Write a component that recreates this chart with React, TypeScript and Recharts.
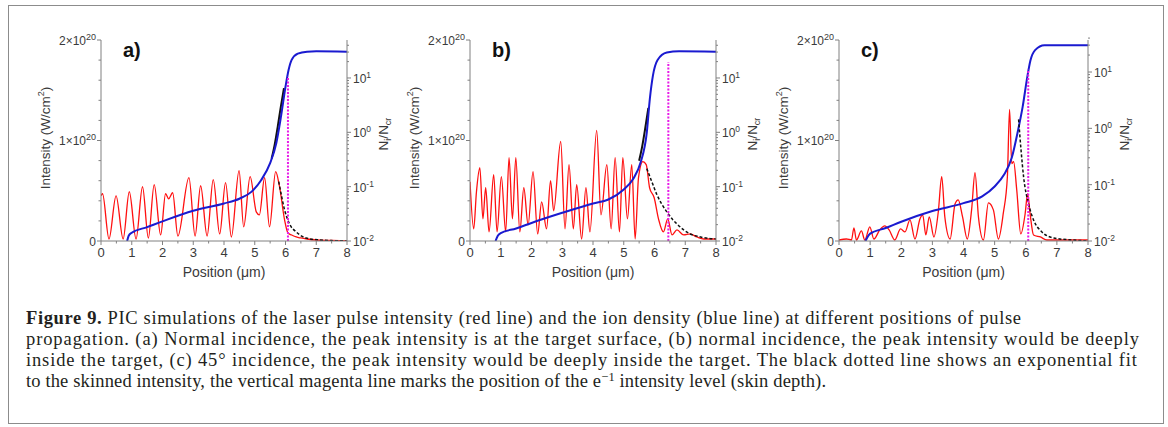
import React from "react";
import { ComposedChart, Line, XAxis, YAxis } from "recharts";

// ---- panel a) ----
const aRedX = [0, 0.05, 0.26, 0.49, 0.72, 0.92, 1.14, 1.35, 1.54, 1.73, 1.94, 2.1, 2.2, 2.33, 2.5, 2.86, 3.06, 3.24, 3.45, 3.65, 3.86, 4.05, 4.24, 4.49, 4.64, 4.85, 5.05, 5.15, 5.32, 5.48, 5.68, 5.8, 5.97, 6.08, 6.2, 6.35, 6.5, 6.7, 7.0, 7.5, 8.0];
const aRedI = [0.45, 0.47, 0.02, 0.45, 0.02, 0.49, 0.02, 0.54, 0.03, 0.56, 0.06, 0.47, 0.42, 0.48, 0.05, 0.63, 0.05, 0.55, 0.05, 0.61, 0.07, 0.58, 0.04, 0.7, 0.14, 0.64, 0.29, 0.26, 0.63, 0.14, 0.69, 0.55, 0.21, 0.08, 0.06, 0.04, 0.03, 0.02, 0.01, 0.005, 0];
const aFitX = [5.78, 5.85, 5.97, 6.13, 6.35, 6.67, 7.1, 7.5, 8];
const aFitI = [0.59, 0.48, 0.31, 0.17, 0.09, 0.03, 0.01, 0.004, 0.001];
const aIonX = [0.85, 0.9, 1.0, 1.5, 2.0, 3.0, 4.0, 4.5, 4.9, 5.2, 5.5, 5.7, 5.85, 6.0, 6.1, 6.2, 6.4, 6.7, 7.0, 8.0];
const aIonN = [0.01, 0.0125, 0.0142, 0.018, 0.023, 0.036, 0.049, 0.06, 0.081, 0.13, 0.27, 0.63, 1.9, 6.9, 14, 21.5, 28, 30.5, 31, 30.5];
const aIon2X = [5.55, 5.65, 5.75, 5.85, 5.95];
const aIon2N = [0.33, 0.6, 1.3, 3.0, 6.5];
const aSkin = 6.08;
const aSkinTop = 1.64;

// ---- panel b) ----
const bRedX = [0, 0.12, 0.21, 0.32, 0.42, 0.51, 0.62, 0.77, 0.88, 1.02, 1.16, 1.27, 1.38, 1.49, 1.62, 1.75, 1.89, 2.05, 2.2, 2.33, 2.49, 2.62, 2.72, 2.95, 3.09, 3.22, 3.36, 3.47, 3.63, 3.77, 3.9, 4.12, 4.26, 4.45, 4.59, 4.72, 4.86, 4.97, 5.12, 5.26, 5.37, 5.48, 5.62, 5.73, 5.84, 5.99, 6.13, 6.29, 6.43, 6.57, 6.73, 6.95, 7.16, 7.38, 7.6, 8.0];
const bRedI = [0.59, 0.12, 0.49, 0.73, 0.22, 0.53, 0.09, 0.66, 0.09, 0.64, 0.09, 0.83, 0.22, 0.83, 0.09, 0.53, 0.16, 0.69, 0.07, 0.39, 0.12, 0.6, 0.3, 0.99, 0.12, 0.76, 0.12, 0.56, 0.02, 0.53, 0.09, 1.1, 0.26, 0.76, 0.12, 0.83, 0.09, 0.83, 0.22, 0.76, 0.02, 0.63, 0.79, 0.76, 0.53, 0.43, 0.22, 0.09, 0.22, 0.06, 0.11, 0.06, 0.07, 0.04, 0.02, 0.02];
const bFitX = [5.75, 5.9, 6.08, 6.25, 6.4, 6.6, 6.73, 6.95, 7.16, 7.5, 8];
const bFitI = [0.72, 0.6, 0.46, 0.36, 0.29, 0.21, 0.17, 0.11, 0.07, 0.04, 0.02];
const bIonX = [0.83, 0.9, 1.0, 1.5, 2.0, 3.0, 4.0, 4.5, 5.0, 5.3, 5.55, 5.75, 5.85, 5.95, 6.1, 6.4, 6.8, 8.0];
const bIonN = [0.01, 0.0124, 0.014, 0.017, 0.0215, 0.033, 0.049, 0.058, 0.089, 0.137, 0.28, 1.0, 4.2, 11.2, 21.5, 29.5, 31, 30.5];
const bIon2X = [5.5, 5.6, 5.7, 5.8];
const bIon2N = [0.3, 0.55, 1.2, 2.8];
const bSkin = 6.45;
const bSkinTop = 1.78;

// ---- panel c) ----
const cRedX = [0, 0.24, 0.4, 0.48, 0.56, 0.72, 0.83, 0.99, 1.12, 1.31, 1.47, 1.61, 1.79, 1.98, 2.12, 2.28, 2.44, 2.6, 2.69, 2.79, 2.9, 3.05, 3.19, 3.3, 3.4, 3.57, 3.73, 3.83, 3.97, 4.12, 4.26, 4.37, 4.48, 4.64, 4.8, 4.96, 5.12, 5.28, 5.41, 5.48, 5.55, 5.61, 5.71, 5.84, 5.98, 6.06, 6.14, 6.25, 6.47, 6.68, 7.0, 7.43, 8.0];
const cRedI = [0.01, 0.02, 0.01, 0.13, 0.01, 0.1, 0.01, 0.14, 0.02, 0.11, 0.15, 0.11, 0.01, 0.12, 0.09, 0.21, 0.02, 0.22, 0.26, 0.06, 0.24, 0.04, 0.29, 0.64, 0.24, 0.02, 0.37, 0.41, 0.24, 0.02, 0.31, 0.68, 0.24, 0.01, 0.38, 0.31, 0.02, 0.28, 0.64, 1.31, 0.77, 0.79, 0.51, 0.07, 0.27, 0.47, 0.27, 0.06, 0.04, 0.01, 0.01, 0.01, 0.01];
const cFitX = [5.77, 5.85, 5.93, 6.09, 6.25, 6.52, 6.9, 7.5, 8];
const cFitI = [1.21, 0.9, 0.64, 0.37, 0.21, 0.09, 0.03, 0.01, 0.0];
const cIonX = [0.85, 1.0, 1.5, 2.0, 3.0, 4.0, 4.6, 5.0, 5.3, 5.55, 5.75, 5.9, 6.05, 6.15, 6.3, 6.6, 8.0];
const cIonN = [0.01, 0.0135, 0.017, 0.022, 0.034, 0.047, 0.062, 0.093, 0.15, 0.3, 0.91, 2.4, 8.2, 16, 24.5, 30, 30];
const cIon2X: number[] = [];
const cIon2N: number[] = [];
const cSkin = 6.08;
const cSkinTop = 1.71;

// ---- ticks ----
const xTicks = [0, 0.5, 1, 1.5, 2, 2.5, 3, 3.5, 4, 4.5, 5, 5.5, 6, 6.5, 7, 7.5, 8];
const iTicks = [0, 0.2, 0.4, 0.6, 0.8, 1, 1.2, 1.4, 1.6, 1.8, 2];
const iMajor = [0, 1, 2];
const iLabels = ["0", "1×10", "2×10"];
const nMajor = [0.01, 0.1, 1, 10];
const nExp = ["-2", "-1", "0", "1"];
const nMinor = [0.02, 0.03, 0.04, 0.05, 0.06, 0.07, 0.08, 0.09, 0.2, 0.3, 0.4, 0.5, 0.6, 0.7, 0.8, 0.9, 2, 3, 4, 5, 6, 7, 8, 9, 20, 30, 40];

const zip = (xs: number[], ys: number[]) => xs.map((x, i) => ({ x, y: ys[i] }));

const AX = "#808080";
const TXT = "#3a3a3a";
const SANS = "'Liberation Sans', Arial, sans-serif";

const XTick = (p: any) => {
  const v = p.payload.value;
  const major = Math.abs(v - Math.round(v)) < 1e-6;
  return (
    <g>
      <line x1={p.x} x2={p.x} y1={p.y} y2={p.y + (major ? 4 : 2.5)} stroke={AX} />
      {major && (
        <text x={p.x} y={p.y + 16} textAnchor="middle" fontSize={13} fill={TXT} fontFamily={SANS}>
          {Math.round(v)}
        </text>
      )}
    </g>
  );
};

const ITick = (p: any) => {
  const v = p.payload.value;
  const idx = iMajor.findIndex((m) => Math.abs(m - v) < 1e-6);
  return (
    <g>
      <line x1={p.x} x2={p.x - (idx >= 0 ? 4 : 2.5)} y1={p.y} y2={p.y} stroke={AX} />
      {idx >= 0 && (
        <text x={p.x - 5} y={p.y + 4.5} textAnchor="end" fontSize={12} fill={TXT} fontFamily={SANS}>
          {idx === 0 ? (
            iLabels[0]
          ) : (
            <>
              <tspan>{iLabels[idx]}</tspan>
              <tspan dy={-5} fontSize={9}>20</tspan>
            </>
          )}
        </text>
      )}
    </g>
  );
};

const NTick = (p: any) => {
  const v = p.payload.value;
  const idx = nMajor.findIndex((m) => Math.abs(m - v) / m < 1e-6);
  return (
    <g>
      <line x1={p.x} x2={p.x + (idx >= 0 ? 4 : 2)} y1={p.y} y2={p.y} stroke={AX} />
      {idx >= 0 && (
        <text x={p.x + 6} y={p.y + 5} textAnchor="start" fontSize={12} fill={TXT} fontFamily={SANS}>
          <tspan>10</tspan>
          <tspan dy={-5} fontSize={8.5}>{nExp[idx]}</tspan>
        </text>
      )}
    </g>
  );
};

type PanelProps = {
  tag: string;
  px0: number;
  px1: number;
  nTop: number;
  red: { x: number; y: number }[];
  fit: { x: number; y: number }[];
  ion: { x: number; y: number }[];
  ion2: { x: number; y: number }[];
  skin: { x: number; y: number }[];
};

const TOP = 40;
const BOT = 241;

const Panel = ({ tag, px0, px1, nTop, red, fit, ion, ion2, skin }: PanelProps) => {
  const w = px1 - px0 + 110;
  const h = BOT - TOP + 45;
  return (
    <>
      <div style={{ position: "absolute", left: px0 - 60, top: TOP - 10 }}>
        <ComposedChart width={w} height={h} margin={{ top: 10, right: 10, bottom: 5, left: 10 }}>
          <XAxis
            type="number"
            dataKey="x"
            domain={[0, 8]}
            ticks={xTicks}
            interval={0}
            tick={<XTick />}
            tickLine={false}
            tickSize={0}
            tickMargin={0}
            height={30}
            axisLine={{ stroke: AX }}
            allowDataOverflow
          />
          <YAxis
            yAxisId="I"
            orientation="left"
            type="number"
            domain={[0, 2]}
            ticks={iTicks}
            interval={0}
            tick={<ITick />}
            tickLine={false}
            tickSize={0}
            tickMargin={0}
            width={50}
            axisLine={{ stroke: AX }}
            allowDataOverflow
          />
          <YAxis
            yAxisId="N"
            orientation="right"
            type="number"
            scale="log"
            domain={[0.01, nTop]}
            ticks={[...nMajor, ...nMinor].sort((a, b) => a - b)}
            interval={0}
            tick={<NTick />}
            tickLine={false}
            tickSize={0}
            tickMargin={0}
            width={40}
            axisLine={{ stroke: AX }}
            allowDataOverflow
          />
          <Line yAxisId="I" data={red} dataKey="y" type="monotone" stroke="#ff1010" strokeWidth={1.3} dot={false} isAnimationActive={false} />
          <Line yAxisId="N" data={ion2} dataKey="y" type="monotone" stroke="#111111" strokeWidth={2} dot={false} isAnimationActive={false} />
          <Line yAxisId="N" data={ion} dataKey="y" type="monotone" stroke="#1a1ad0" strokeWidth={2} dot={false} isAnimationActive={false} />
          <Line yAxisId="I" data={fit} dataKey="y" type="monotone" stroke="#111111" strokeWidth={1.5} strokeDasharray="3 2" dot={false} isAnimationActive={false} />
          <Line yAxisId="I" data={skin} dataKey="y" type="linear" stroke="#e81ce8" strokeWidth={2} strokeDasharray="2 1.5" dot={false} isAnimationActive={false} />
        </ComposedChart>
      </div>
      <div style={{ position: "absolute", left: px0 + 22, top: TOP - 1, fontFamily: SANS, fontWeight: "bold", fontSize: 20, lineHeight: "22px", color: "#111" }}>
        {tag}
      </div>
      <div
        style={{
          position: "absolute",
          left: px0 - 56,
          top: 138,
          transform: "translate(-50%, -50%) rotate(-90deg)",
          whiteSpace: "nowrap",
          fontFamily: SANS,
          fontSize: 13.5,
          color: TXT,
        }}
      >
        Intensity (W/cm<sup style={{ fontSize: 9, lineHeight: 0 }}>2</sup>)
      </div>
      <div
        style={{
          position: "absolute",
          left: px1 + 36,
          top: 134,
          transform: "translate(-50%, -50%) rotate(-90deg)",
          whiteSpace: "nowrap",
          fontFamily: SANS,
          fontSize: 13.5,
          color: TXT,
        }}
      >
        N<sub style={{ fontSize: 9, lineHeight: 0 }}>i</sub>/N<sub style={{ fontSize: 9, lineHeight: 0 }}>cr</sub>
      </div>
      <div
        style={{
          position: "absolute",
          left: (px0 + px1) / 2,
          top: 272,
          transform: "translate(-50%, -50%)",
          whiteSpace: "nowrap",
          fontFamily: SANS,
          fontSize: 14,
          color: TXT,
        }}
      >
        Position (μm)
      </div>
    </>
  );
};

const SERIF = "'Liberation Serif', 'Times New Roman', serif";

export default function App() {
  return (
    <div style={{ position: "relative", width: 1168, height: 427, background: "#fff", overflow: "hidden" }}>
      <style>{"body{margin:0}"}</style>
      <div style={{ position: "absolute", left: 8, top: 5, width: 1156, height: 419, border: "1.5px solid #8c8c8c", boxSizing: "border-box" }} />
      <Panel tag="a)" px0={101} px1={347} nTop={50} red={zip(aRedX, aRedI)} fit={zip(aFitX, aFitI)} ion={zip(aIonX, aIonN)} ion2={zip(aIon2X, aIon2N)} skin={zip([aSkin, aSkin], [0, aSkinTop])} />
      <Panel tag="b)" px0={470} px1={716} nTop={50} red={zip(bRedX, bRedI)} fit={zip(bFitX, bFitI)} ion={zip(bIonX, bIonN)} ion2={zip(bIon2X, bIon2N)} skin={zip([bSkin, bSkin], [0, bSkinTop])} />
      <Panel tag="c)" px0={839} px1={1088} nTop={37} red={zip(cRedX, cRedI)} fit={zip(cFitX, cFitI)} ion={zip(cIonX, cIonN)} ion2={zip(cIon2X, cIon2N)} skin={zip([cSkin, cSkin], [0, cSkinTop])} />
      <svg width={1168} height={427} style={{ position: "absolute", left: 0, top: 0 }}>
        <g style={{ fontFamily: SERIF, fontSize: "18.5px" }} fill="#231f20">
          <text x={26} y={324} textLength={995} lengthAdjust="spacing">
            <tspan fontWeight="bold">Figure 9.</tspan>
            <tspan> PIC simulations of the laser pulse intensity (red line) and the ion density (blue line) at different positions of pulse</tspan>
          </text>
          <text x={26} y={345} textLength={1113} lengthAdjust="spacing">
            propagation. (a) Normal incidence, the peak intensity is at the target surface, (b) normal incidence, the peak intensity would be deeply
          </text>
          <text x={26} y={366} textLength={1111} lengthAdjust="spacing">
            inside the target, (c) 45° incidence, the peak intensity would be deeply inside the target. The black dotted line shows an exponential fit
          </text>
          <text x={26} y={387} textLength={800} lengthAdjust="spacing">
            <tspan>to the skinned intensity, the vertical magenta line marks the position of the e</tspan>
            <tspan dy={-6} style={{ fontSize: "12.5px" }}>−1</tspan>
            <tspan dy={6}> intensity level (skin depth).</tspan>
          </text>
        </g>
      </svg>
    </div>
  );
}
